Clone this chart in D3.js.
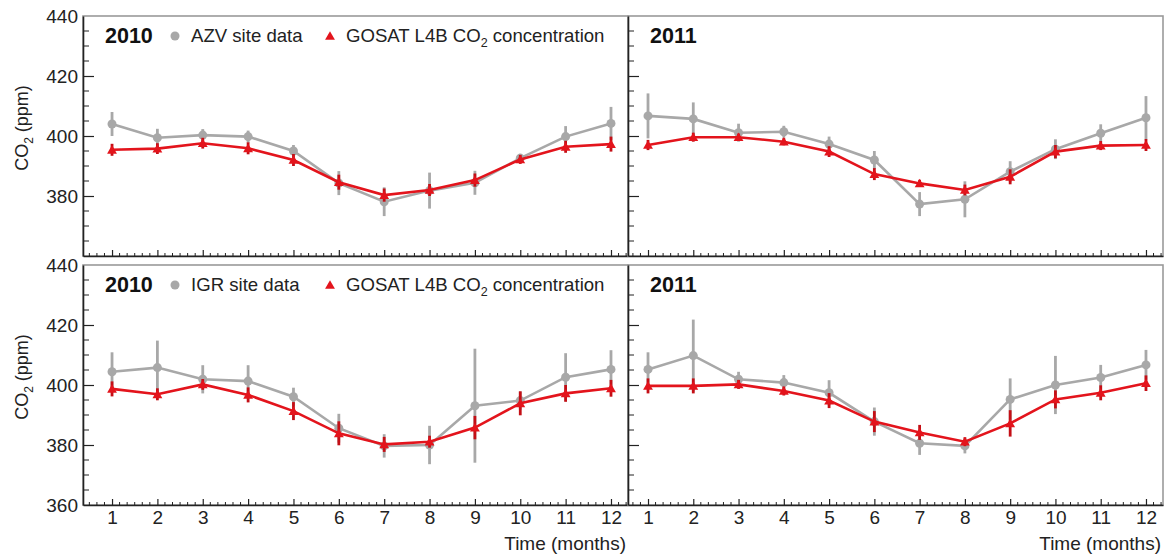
<!DOCTYPE html>
<html>
<head>
<meta charset="utf-8">
<script src="https://cdn.jsdelivr.net/npm/d3@7"></script>
<style>
  body { margin: 0; background: #fff; }
  svg text { font-family: Arial, "Liberation Sans", sans-serif; fill: #222; }
</style>
</head>
<body>
<svg id="chart" width="1168" height="554"></svg>
<script>
// months on the x axis
const months = [1, 2, 3, 4, 5, 6, 7, 8, 9, 10, 11, 12];
const yTicks = [360, 380, 400, 420, 440];

// AZV site vs GOSAT, 2010 and 2011
const azvSite2010 = [404.0, 399.4, 400.3, 399.8, 395.0, 384.3, 378.1, 381.8, 384.4, 392.6, 399.8, 404.2];
const azvSiteErr2010 = [4.0, 3.0, 2.0, 2.0, 2.0, 4.0, 4.8, 6.0, 4.0, 1.5, 3.5, 5.5];
const gosatAzv2010 = [395.4, 395.8, 397.6, 395.9, 392.0, 384.6, 380.3, 382.0, 385.3, 392.2, 396.4, 397.3];
const gosatAzvErr2010 = [2.0, 1.8, 1.8, 2.0, 2.0, 2.5, 2.2, 2.0, 2.2, 1.5, 2.0, 2.5];

const azvSite2011 = [406.7, 405.7, 401.1, 401.4, 397.3, 392.0, 377.3, 378.9, 388.1, 395.6, 400.9, 406.1];
const azvSiteErr2011 = [7.5, 5.5, 3.0, 2.0, 2.5, 3.0, 4.0, 6.0, 3.5, 3.3, 3.0, 7.2];
const gosatAzv2011 = [397.0, 399.6, 399.6, 398.1, 394.8, 387.3, 384.2, 382.0, 386.4, 394.8, 396.8, 397.0];
const gosatAzvErr2011 = [1.7, 1.5, 1.2, 1.2, 1.8, 2.0, 1.2, 1.8, 2.5, 2.2, 1.5, 2.0];

// IGR site vs GOSAT, 2010 and 2011
const igrSite2010 = [404.4, 405.8, 401.9, 401.3, 396.1, 385.6, 379.7, 380.0, 393.1, 394.8, 402.6, 405.2];
const igrSiteErr2010 = [6.5, 9.0, 4.7, 5.3, 3.0, 4.8, 3.9, 6.4, 19.0, 3.0, 8.0, 6.4];
const gosatIgr2010 = [398.7, 396.9, 400.2, 396.7, 391.3, 383.9, 380.2, 381.1, 385.8, 393.9, 397.2, 398.9];
const gosatIgrErr2010 = [2.5, 2.0, 1.8, 2.5, 3.0, 4.0, 2.5, 2.0, 3.9, 4.0, 2.8, 2.8];

const igrSite2011 = [405.2, 409.8, 401.9, 400.8, 397.4, 387.8, 380.6, 379.7, 395.2, 400.0, 402.5, 406.7];
const igrSiteErr2011 = [5.7, 12.0, 2.5, 2.5, 4.2, 4.7, 3.9, 2.5, 7.0, 9.7, 4.2, 5.0];
const gosatIgr2011 = [399.7, 399.7, 400.2, 398.0, 394.8, 387.8, 384.2, 381.1, 387.2, 395.2, 397.4, 400.6];
const gosatIgrErr2011 = [2.5, 2.5, 1.5, 1.5, 2.5, 3.5, 2.5, 1.5, 4.4, 3.0, 2.5, 2.6];

const siteColor = "#a8a8a8";
const gosatColor = "#e3141c";
const gosatErrColor = "#c40f16";
const frameColor = "#9a9a9a";
const axisColor = "#222";

const svg = d3.select("#chart");

// panel layout: two columns, two rows
const cols = [
    { left: 83, right: 628, domain: [0.36, 12.375] },
    { left: 628, right: 1163, domain: [0.558, 12.376] }
];
const rows = [
    { top: 16, bottom: 256 },
    { top: 265, bottom: 505 }
];

const panels = [
    { row: 0, col: 0, year: "2010", site: "AZV site data", s: azvSite2010, se: azvSiteErr2010, g: gosatAzv2010, ge: gosatAzvErr2010 },
    { row: 0, col: 1, year: "2011", site: null, s: azvSite2011, se: azvSiteErr2011, g: gosatAzv2011, ge: gosatAzvErr2011 },
    { row: 1, col: 0, year: "2010", site: "IGR site data", s: igrSite2010, se: igrSiteErr2010, g: gosatIgr2010, ge: gosatIgrErr2010 },
    { row: 1, col: 1, year: "2011", site: null, s: igrSite2011, se: igrSiteErr2011, g: gosatIgr2011, ge: gosatIgrErr2011 }
];

const triangle = d3.symbol().type(d3.symbolTriangle).size(42);

panels.forEach(p => {
    const c = cols[p.col], r = rows[p.row];
    const x = d3.scaleLinear().domain(c.domain).range([c.left, c.right]);
    const y = d3.scaleLinear().domain([360, 440]).range([r.bottom, r.top]);
    const g = svg.append("g");

    // gray frame on top and right
    g.append("rect")
        .attr("x", c.left).attr("y", r.top)
        .attr("width", c.right - c.left).attr("height", r.bottom - r.top)
        .attr("fill", "none")
        .attr("stroke", frameColor)
        .attr("stroke-width", 1.6);

    // minor ticks every 1/6 month, major ticks on months
    const minorX = d3.range(Math.ceil(c.domain[0] * 6), Math.floor(c.domain[1] * 6) + 1)
        .map(k => k / 6)
        .filter(v => Math.abs(v - Math.round(v)) > 0.01);
    const xAxis = g.append("g")
        .attr("transform", `translate(0,${r.bottom})`)
        .call(d3.axisBottom(x).tickValues(months).tickSize(-6).tickSizeOuter(0)
            .tickFormat(p.row === 1 ? d3.format("d") : ""));
    xAxis.select(".domain").attr("stroke", axisColor).attr("stroke-width", 1.6);
    xAxis.selectAll(".tick line").attr("stroke", axisColor).attr("stroke-width", 1.2);
    xAxis.selectAll(".tick text")
        .attr("dy", 0).attr("y", 19)
        .style("font-size", "19px").style("fill", "#222");
    g.selectAll(".xminor")
        .data(minorX)
        .enter().append("line")
        .attr("x1", d => x(d)).attr("x2", d => x(d))
        .attr("y1", r.bottom).attr("y2", r.bottom - 3)
        .attr("stroke", axisColor).attr("stroke-width", 1);

    // y axis on the left of every panel
    const yAxis = g.append("g")
        .attr("transform", `translate(${c.left},0)`)
        .call(d3.axisLeft(y).tickValues(yTicks.filter(v => v > 360 && v < 440)).tickSize(-11).tickSizeOuter(0).tickFormat(""));
    yAxis.select(".domain").attr("stroke", axisColor).attr("stroke-width", 1.6);
    yAxis.selectAll(".tick line").attr("stroke", axisColor).attr("stroke-width", 1.2);
    g.selectAll(".yminor")
        .data(d3.range(365, 440, 5).filter(v => v % 20 !== 0))
        .enter().append("line")
        .attr("x1", c.left).attr("x2", c.left + 6)
        .attr("y1", d => y(d)).attr("y2", d => y(d))
        .attr("stroke", axisColor).attr("stroke-width", 1);

    if (p.col === 0) {
        // tick labels only on the outer left edge
        const labels = p.row === 0 ? yTicks.filter(v => v > 360) : yTicks;
        g.selectAll(".ylab")
            .data(labels)
            .enter().append("text")
            .attr("x", c.left - 5)
            .attr("y", d => y(d) + 7)
            .attr("text-anchor", "end")
            .style("font-size", "19px")
            .text(d => d);

        const t = g.append("text")
            .attr("transform", `translate(28,${(r.top + r.bottom) / 2 - 8}) rotate(-90)`)
            .attr("text-anchor", "middle")
            .style("font-size", "18px");
        t.append("tspan").text("CO");
        t.append("tspan").attr("dy", 5).style("font-size", "12px").text("2");
        t.append("tspan").attr("dy", -5).text(" (ppm)");
    }

    if (p.row === 1) {
        g.append("text")
            .attr("x", c.right - 2)
            .attr("y", 550)
            .attr("text-anchor", "end")
            .style("font-size", "19px")
            .text("Time (months)");
    }

    // site data: line, error bars, circles
    const pts = months.map((m, i) => ({ m, s: p.s[i], se: p.se[i], g: p.g[i], ge: p.ge[i] }));
    const line = key => d3.line().x(d => x(d.m)).y(d => y(d[key]));

    g.append("path").datum(pts)
        .attr("d", line("s"))
        .attr("fill", "none").attr("stroke", siteColor).attr("stroke-width", 2.6);
    g.selectAll(".serr").data(pts).enter().append("line")
        .attr("x1", d => x(d.m)).attr("x2", d => x(d.m))
        .attr("y1", d => y(d.s - d.se)).attr("y2", d => y(d.s + d.se))
        .attr("stroke", siteColor).attr("stroke-width", 2.8);
    g.selectAll(".sdot").data(pts).enter().append("circle")
        .attr("cx", d => x(d.m)).attr("cy", d => y(d.s))
        .attr("r", 4.5).attr("fill", siteColor);

    // GOSAT: line, error bars, triangles
    g.append("path").datum(pts)
        .attr("d", line("g"))
        .attr("fill", "none").attr("stroke", gosatColor).attr("stroke-width", 2.6);
    g.selectAll(".gerr").data(pts).enter().append("line")
        .attr("x1", d => x(d.m)).attr("x2", d => x(d.m))
        .attr("y1", d => y(d.g - d.ge)).attr("y2", d => y(d.g + d.ge))
        .attr("stroke", gosatErrColor).attr("stroke-width", 2.8);
    g.selectAll(".gtri").data(pts).enter().append("path")
        .attr("d", triangle)
        .attr("transform", d => `translate(${x(d.m)},${y(d.g) + 1})`)
        .attr("fill", gosatColor);

    // panel title and legend
    const ty = r.top + 27;
    g.append("text")
        .attr("x", c.left + 22)
        .attr("y", ty)
        .style("font-size", "21.5px").style("font-weight", "bold").style("fill", "#111")
        .text(p.year);

    if (p.site) {
        g.append("circle")
            .attr("cx", 175).attr("cy", ty - 7).attr("r", 4.5).attr("fill", siteColor);
        g.append("text")
            .attr("x", 191).attr("y", ty - 1)
            .style("font-size", "18.6px")
            .text(p.site);
        g.append("path")
            .attr("d", triangle)
            .attr("transform", `translate(330,${ty - 6})`)
            .attr("fill", gosatColor);
        const lt = g.append("text")
            .attr("x", 346).attr("y", ty - 1)
            .style("font-size", "18.6px");
        lt.append("tspan").text("GOSAT L4B CO");
        lt.append("tspan").attr("dy", 5).style("font-size", "12.5px").text("2");
        lt.append("tspan").attr("dy", -5).text(" concentration");
    }
});
</script>
</body>
</html>
